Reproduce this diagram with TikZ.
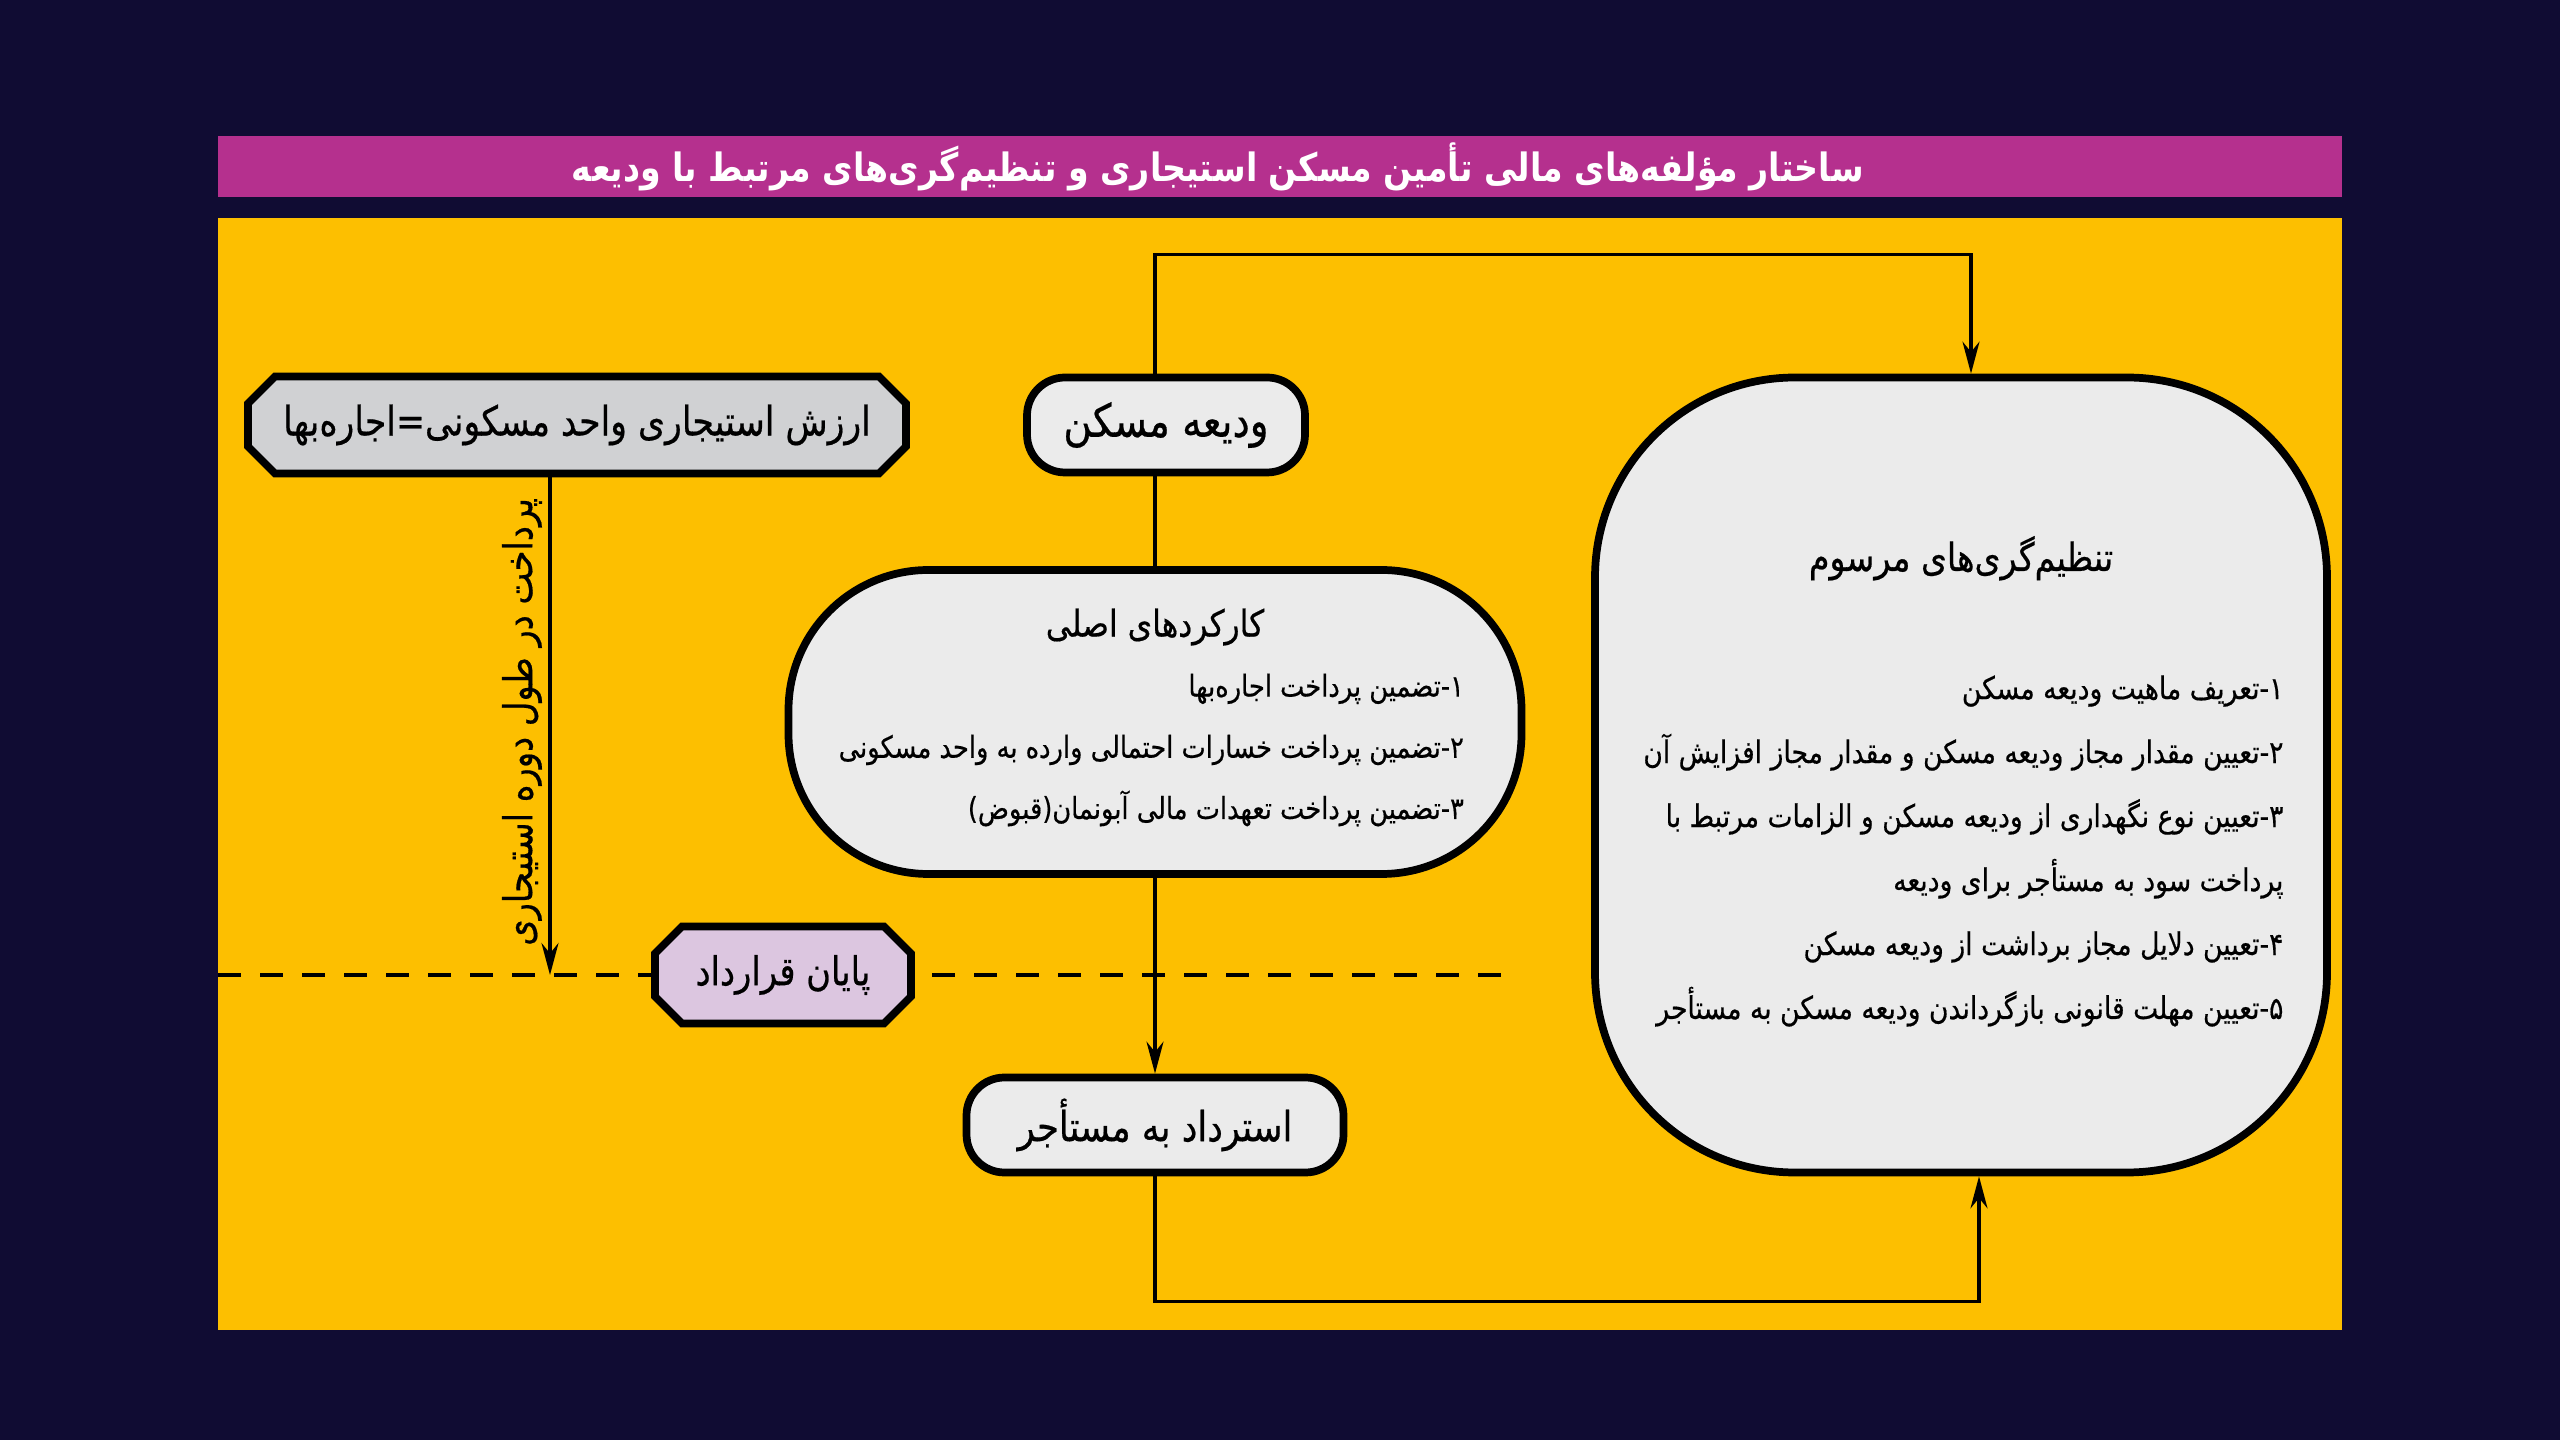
\documentclass[tikz,border=0pt]{standalone}
\usepackage{fontspec}
\usetikzlibrary{positioning, arrows.meta}
\newfontfamily\farsi[Script=Arabic, FakeStretch=0.85, FakeBold=0.5]{DejaVu Sans}
\newfontfamily\farsititle[Script=Arabic, FakeStretch=0.85]{DejaVu Sans}
\TeXXeTstate=1
\definecolor{navy}{HTML}{100C33}
\definecolor{titlebar}{HTML}{B5308E}
\definecolor{panel}{HTML}{FDBF00}
\definecolor{boxgray}{HTML}{EBEBEB}
\definecolor{hexgray}{HTML}{D0D1D3}
\definecolor{hexpurple}{HTML}{DCC6E0}
\newcommand{\rl}[1]{\beginR #1\endR}
\newcommand{\hexbg}[5]{\filldraw[line width=2.2pt, fill=#5] (#1-#3/2+0.27,#2+#4/2) -- (#1+#3/2-0.27,#2+#4/2) -- (#1+#3/2,#2+#4/2-0.27) -- (#1+#3/2,#2-#4/2+0.27) -- (#1+#3/2-0.27,#2-#4/2) -- (#1-#3/2+0.27,#2-#4/2) -- (#1-#3/2,#2-#4/2+0.27) -- (#1-#3/2,#2+#4/2-0.27) -- cycle;}

\begin{document}
\begin{tikzpicture}[
		>={Stealth[length=3.2mm, width=1.7mm]},
		pill/.style={draw, line width=2.2pt, fill=boxgray, rounded corners=3.8mm, minimum height=9.5mm, font=\farsi\fontsize{13}{15}\selectfont},
		bigbox/.style={draw, line width=2.2pt, fill=boxgray},
		hexlabel/.style={minimum height=9.7mm, inner sep=0pt},
		link/.style={line width=0.9pt},
		listtext/.style={align=right, anchor=east},
	]
	\fill[navy] (0,0) rectangle (25.6,14.4);
	\fill[titlebar] (2.18,12.43) rectangle (23.42,13.04);
	\node[text=white, font=\farsititle\bfseries\fontsize{11.1}{13}\selectfont] (title) at (12.18,12.735) {\rl{ساختار مؤلفه^^^^200cهای مالی تأمین مسکن استیجاری و تنظیم^^^^200cگری^^^^200cهای مرتبط با ودیعه}};
	\fill[panel] (2.18,1.10) rectangle (23.42,12.22);

	\coordinate (dashL) at (2.18,4.65);
	\coordinate (dashR) at (15.05,4.65);
	\draw[line width=1.1pt, dash pattern=on 2.3mm off 1.9mm] (dashL) -- (dashR);

	\hexbg{5.77}{10.15}{6.58}{0.97}{hexgray}
	\node[hexlabel, minimum width=6.58cm, font=\farsi\fontsize{11.6}{14}\selectfont] (rentval) at (5.77,10.15) {\rl{ارزش استیجاری واحد مسکونی=اجاره^^^^200cبها}};
	\node[pill, minimum width=2.78cm] (deposit) at (11.66,10.15) {\rl{ودیعه مسکن}};
	\node[bigbox, minimum width=7.33cm, minimum height=3.04cm, rounded corners=14mm] (functions) at (11.55,7.18) {};
	\node[font=\farsi\fontsize{10.5}{13}\selectfont, below=3mm of functions.north] (funchead) {\rl{کارکردهای اصلی}};
	\node[listtext, font=\farsi\fontsize{8.6}{17.4}\selectfont] (funclist) at ([xshift=-4.9mm, yshift=-2.8mm]functions.east) {\rl{۱-تضمین پرداخت اجاره^^^^200cبها}\\ \rl{۲-تضمین پرداخت خسارات احتمالی وارده به واحد مسکونی}\\ \rl{۳-تضمین پرداخت تعهدات مالی آبونمان(قبوض)}};
	\hexbg{7.83}{4.65}{2.56}{0.97}{hexpurple}
	\node[hexlabel, minimum width=2.56cm, font=\farsi\fontsize{11.3}{14}\selectfont] (endc) at (7.83,4.65) {\rl{پایان قرارداد}};
	\node[pill, minimum width=3.77cm, font=\farsi\fontsize{11.8}{14}\selectfont] (refund) at (11.55,3.15) {\rl{استرداد به مستأجر}};
	\node[bigbox, minimum width=7.32cm, minimum height=7.95cm, rounded corners=20mm] (regs) at (19.61,6.65) {};
	\node[font=\farsi\fontsize{11.1}{13}\selectfont, below=1.5cm of regs.north] (regshead) {\rl{تنظیم^^^^200cگری^^^^200cهای مرسوم}};
	\node[listtext, font=\farsi\fontsize{8.9}{18.2}\selectfont] (regslist) at ([xshift=-3.5mm, yshift=-7.6mm]regs.east) {\rl{۱-تعریف ماهیت ودیعه مسکن}\\ \rl{۲-تعیین مقدار مجاز ودیعه مسکن و مقدار مجاز افزایش آن}\\ \rl{۳-تعیین نوع نگهداری از ودیعه مسکن و الزامات مرتبط با}\\ \rl{پرداخت سود به مستأجر برای ودیعه}\\ \rl{۴-تعیین دلایل مجاز برداشت از ودیعه مسکن}\\ \rl{۵-تعیین مهلت قانونی بازگرداندن ودیعه مسکن به مستأجر}};
	\node[rotate=90, font=\farsi\fontsize{11.3}{14}\selectfont] (paylabel) at (5.22,7.18) {\rl{پرداخت در طول دوره استیجاری}};

	\draw[link] (deposit.south -| functions.north) -- (functions.north);
	\draw[link, ->] (functions.south) -- (refund.north);
	\draw[link, ->] (deposit.north -| functions.north) -- ++(0,1.19) -| ([xshift=1mm]regs.north);
	\draw[link, ->] (refund.south) -- ++(0,-1.25) -| ([xshift=1.8mm]regs.south);
	\draw[link, ->] ([xshift=-2.7mm]rentval.south) -- ([xshift=-2.7mm]rentval.south |- endc.center);
\end{tikzpicture}
\end{document}
